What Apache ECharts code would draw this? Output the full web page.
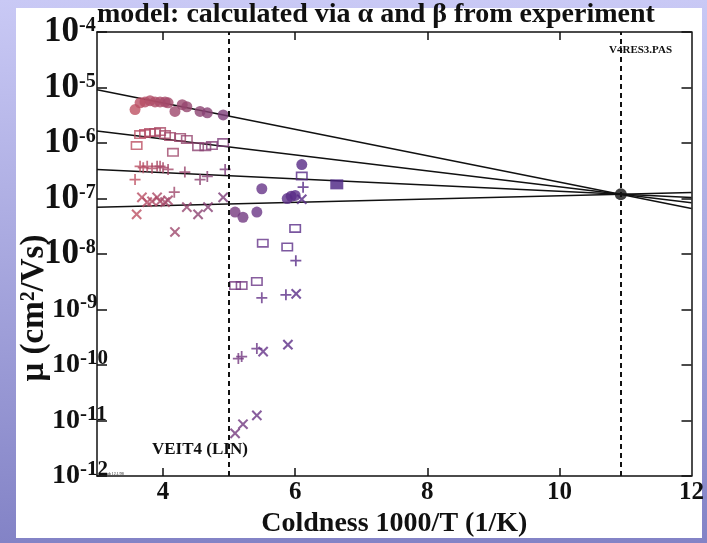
<!DOCTYPE html>
<html><head><meta charset="utf-8">
<script src="https://cdn.jsdelivr.net/npm/echarts@6/dist/echarts.min.js"></script>
<style>html,body{margin:0;padding:0;background:#fff}#c{width:707px;height:543px}</style>
</head><body><div id="c"></div>
<script>
// ---- data ----
const xTickValues = [4, 6, 8, 10];
const xLabelValues = [4, 6, 8, 10, 12];
const markerLines = [5, 10.93];
const convergence = [[10.93, 1.19e-7]];
const fitX = [3, 12];
const fit1 = [9.1e-6, 6.6e-8];
const fit2 = [1.65e-6, 8.4e-8];
const fit3 = [3.35e-7, 1.04e-7];
const fit4 = [7.0e-8, 1.28e-7];

const circles = [
  [3.576, 4.0e-6], [3.652, 5.3e-6], [3.727, 5.5e-6], [3.803, 5.8e-6], [3.879, 5.5e-6],
  [3.955, 5.5e-6], [4.03, 5.5e-6], [4.076, 5.3e-6], [4.18, 3.7e-6], [4.29, 4.9e-6],
  [4.36, 4.5e-6], [4.56, 3.7e-6], [4.67, 3.5e-6], [4.91, 3.2e-6],
  [5.09, 5.7e-8], [5.21, 4.6e-8], [5.42, 5.7e-8], [5.495, 1.5e-7], [5.88, 1.0e-7],
  [5.94, 1.1e-7], [6.0, 1.14e-7], [6.10, 4.1e-7]
];
const squares = [
  [3.6, 9.0e-7], [3.652, 1.42e-6], [3.727, 1.48e-6], [3.803, 1.54e-6], [3.879, 1.54e-6],
  [3.955, 1.61e-6], [4.03, 1.42e-6], [4.106, 1.31e-6], [4.15, 6.8e-7], [4.258, 1.26e-6],
  [4.36, 1.16e-6], [4.53, 8.6e-7], [4.64, 8.6e-7], [4.74, 9.0e-7], [4.91, 1.02e-6],
  [5.09, 2.7e-9], [5.19, 2.7e-9], [5.42, 3.2e-9], [5.51, 1.57e-8], [5.88, 1.34e-8],
  [6.0, 2.9e-8], [6.10, 2.54e-7]
];
const filledSquares = [[6.63, 1.8e-7]];
const pluses = [
  [3.576, 2.2e-7], [3.652, 3.8e-7], [3.70, 3.6e-7], [3.76, 3.8e-7], [3.833, 3.5e-7],
  [3.91, 3.8e-7], [3.955, 3.8e-7], [4.0, 3.6e-7], [4.076, 3.35e-7], [4.17, 1.3e-7],
  [4.33, 3.0e-7], [4.56, 2.2e-7], [4.67, 2.5e-7], [4.94, 3.35e-7],
  [5.14, 1.31e-10], [5.19, 1.42e-10], [5.42, 1.98e-10], [5.495, 1.63e-9], [5.86, 1.84e-9],
  [6.01, 7.6e-9], [6.12, 1.6e-7]
];
const crosses = [
  [3.6, 5.2e-8], [3.68, 1.05e-7], [3.76, 8.6e-8], [3.833, 8.9e-8], [3.91, 1.05e-7],
  [3.955, 8.9e-8], [4.03, 8.6e-8], [4.076, 9.3e-8], [4.18, 2.5e-8], [4.36, 7.0e-8],
  [4.53, 5.2e-8], [4.68, 7.0e-8], [4.91, 1.05e-7],
  [5.09, 5.9e-12], [5.21, 8.6e-12], [5.42, 1.24e-11], [5.515, 1.75e-10], [5.89, 2.33e-10],
  [6.015, 1.92e-9], [6.10, 9.7e-8]
];

// ---- chart ----
const SERIF = '"Liberation Serif", "DejaVu Serif", serif';
const INK = '#111';
const chart = echarts.init(document.getElementById('c'), null, {renderer: 'canvas'});

const squarePath = 'path://M0,0H12V9H0Z M1.6,1.6V7.4H10.4V1.6Z';
const plusPath = 'path://M4.2,0H5.8V4.2H10V5.8H5.8V10H4.2V5.8H0V4.2H4.2Z';

function fitSeries(vals, withMark) {
  const s = {
    type: 'line', data: fitX.map((x, i) => [x, vals[i]]), symbol: 'none', silent: true,
    lineStyle: {color: INK, width: 1.5}, z: 3, clip: true
  };
  if (withMark) {
    s.markLine = {
      silent: true, symbol: 'none', label: {show: false},
      lineStyle: {color: INK, width: 2, type: [5, 4]},
      data: markerLines.map(v => ({xAxis: v}))
    };
  }
  return s;
}

const option = {
  animation: false,
  backgroundColor: '#ffffff',
  graphic: [
    {type: 'rect', z: -10, shape: {x: 0, y: 0, width: 707, height: 543},
     style: {fill: new echarts.graphic.LinearGradient(0, 0, 0, 1, [
       {offset: 0, color: '#c9c9f5'}, {offset: 1, color: '#8383c6'}])}},
    {type: 'rect', z: -9, shape: {x: 16, y: 8, width: 686, height: 530}, style: {fill: '#ffffff'}},
    {type: 'text', left: 97, top: 1, z: 10,
     style: {text: 'model: calculated via α and β from experiment', fontFamily: SERIF,
             fontSize: 28, fontWeight: 'bold', fill: INK}},
    {type: 'text', left: 152, top: 441, z: 10,
     style: {text: 'VEIT4 (LIN)', fontFamily: SERIF, fontSize: 17, fontWeight: 'bold', fill: INK}},
    {type: 'text', left: 609, top: 45, z: 10,
     style: {text: 'V4RES3.PAS', fontFamily: SERIF, fontSize: 11, fontWeight: 'bold', fill: INK}},
    {type: 'text', left: 100, top: 472, z: 10,
     style: {text: 'jonsub 12.1/98', fontFamily: SERIF, fontSize: 4, fill: INK}},
    {type: 'text', x: 34, y: 308, rotation: Math.PI / 2, z: 10,
     style: {text: 'μ (cm²/Vs)', fontFamily: SERIF, fontSize: 33, fontWeight: 'bold', fill: INK,
             align: 'center', verticalAlign: 'middle'}}
  ],
  grid: {left: 97, right: 15, top: 32, bottom: 65, containLabel: false},
  xAxis: [
    {type: 'value', min: 3, max: 12, position: 'bottom',
     axisLine: {show: true, lineStyle: {color: INK, width: 1.5}},
     axisTick: {show: true, inside: true, length: 8, customValues: xTickValues, lineStyle: {color: INK, width: 1.5}},
     axisLabel: {customValues: xLabelValues, fontFamily: SERIF, fontSize: 25, fontWeight: 'bold', color: INK, margin: 4},
     splitLine: {show: false},
     name: 'Coldness 1000/T (1/K)', nameLocation: 'middle', nameGap: 29,
     nameTextStyle: {fontFamily: SERIF, fontSize: 28, fontWeight: 'bold', color: INK}},
    {type: 'value', min: 3, max: 12, position: 'top',
     axisLine: {show: true, onZero: false, lineStyle: {color: INK, width: 1.5}},
     axisTick: {show: true, inside: true, length: 8, customValues: xTickValues, lineStyle: {color: INK, width: 1.5}},
     axisLabel: {show: false}, splitLine: {show: false}}
  ],
  yAxis: [
    {type: 'log', logBase: 10, min: 1e-12, max: 1e-4, position: 'left',
     axisLine: {show: true, lineStyle: {color: INK, width: 1.5}},
     axisTick: {show: true, inside: true, length: 10, lineStyle: {color: INK, width: 1.5}},
     minorTick: {show: false}, splitLine: {show: false},
     axisLabel: {
       margin: 53, align: 'left', color: INK, showMinLabel: true, showMaxLabel: true, hideOverlap: false,
       formatter: v => {
         const e = Math.round(Math.log10(v));
         return e >= -8 ? '{b|10}{s|' + e + '}' : '{p| }{c|10}{t|' + e + '}';
       },
       rich: {
         b: {fontFamily: SERIF, fontSize: 35, fontWeight: 'bold', color: INK, lineHeight: 32},
         s: {fontFamily: SERIF, fontSize: 20, fontWeight: 'bold', color: INK, lineHeight: 20, verticalAlign: 'top'},
         p: {fontSize: 8, width: 8},
         c: {fontFamily: SERIF, fontSize: 28, fontWeight: 'bold', color: INK, lineHeight: 34},
         t: {fontFamily: SERIF, fontSize: 21, fontWeight: 'bold', color: INK, lineHeight: 21, verticalAlign: 'top'}
       }
     }},
    {type: 'log', logBase: 10, min: 1e-12, max: 1e-4, position: 'right',
     axisLine: {show: true, onZero: false, lineStyle: {color: INK, width: 1.5}},
     axisTick: {show: true, inside: true, length: 10, lineStyle: {color: INK, width: 1.5}},
     minorTick: {show: false}, splitLine: {show: false}, axisLabel: {show: false}}
  ],
  visualMap: {
    show: false, type: 'continuous', dimension: 0, seriesIndex: [4, 5, 6, 7, 8],
    min: 3.5, max: 6.6,
    inRange: {color: ['#c25262', '#8c4270', '#64348a', '#4a2282']}
  },
  series: [
    fitSeries(fit1, true), fitSeries(fit2, false), fitSeries(fit3, false), fitSeries(fit4, false),
    {type: 'scatter', data: circles, symbol: 'circle', symbolSize: 11, z: 4},
    {type: 'scatter', data: squares, symbol: squarePath, symbolSize: [12, 9], z: 4},
    {type: 'scatter', data: filledSquares, symbol: 'rect', symbolSize: [13, 10], z: 4},
    {type: 'scatter', data: pluses, symbol: plusPath, symbolSize: 11, z: 4},
    {type: 'scatter', data: crosses, symbol: plusPath, symbolSize: 13, symbolRotate: 45, z: 4},
    {type: 'scatter', data: convergence, symbol: 'circle', symbolSize: 12, itemStyle: {color: INK}, z: 5}
  ]
};
chart.setOption(option);
</script>
</body></html>
